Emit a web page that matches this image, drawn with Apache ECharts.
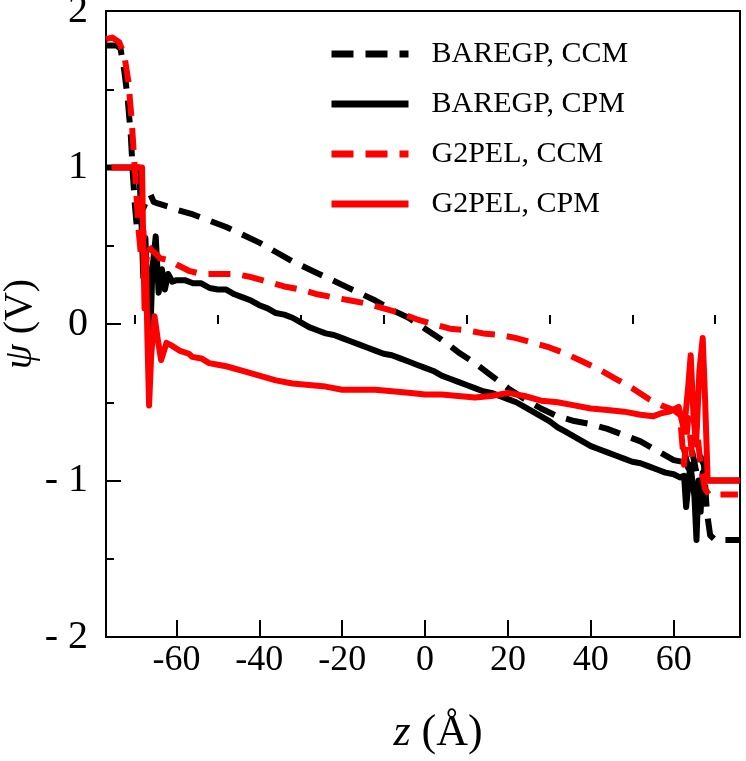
<!DOCTYPE html>
<html>
<head>
<meta charset="utf-8">
<script src="https://cdn.jsdelivr.net/npm/echarts@6/dist/echarts.min.js"></script>
<style>
  html, body { margin: 0; padding: 0; background: #fff; }
  #chart { width: 746px; height: 761px; }
</style>
</head>
<body>
<div id="chart"></div>
<script>
// potential profiles, [z (Å), psi (V)]
const baregpCcm = [
  [-77, 1.78], [-74.5, 1.78], [-73.5, 1.76], [-72.6, 1.62], [-71.8, 1.45], [-71.0, 1.2],
  [-70.5, 0.95], [-70.0, 0.75], [-69.5, 0.6], [-69.0, 0.7], [-68.0, 0.74], [-67.0, 0.8],
  [-66.3, 0.83], [-65.5, 0.78], [-64.5, 0.77], [-62, 0.75], [-60, 0.73], [-56, 0.7],
  [-52, 0.66], [-48, 0.62], [-44, 0.57], [-40, 0.52], [-36, 0.46], [-32, 0.4], [-28, 0.35],
  [-24, 0.3], [-20, 0.25], [-16, 0.2], [-12, 0.15], [-8, 0.09], [-4, 0.04], [0, -0.03],
  [4, -0.1], [8, -0.18], [12, -0.25], [16, -0.33], [20, -0.41], [24, -0.48], [28, -0.54],
  [32, -0.59], [36, -0.62], [40, -0.64], [44, -0.67], [48, -0.71], [52, -0.75], [56, -0.81],
  [60, -0.87], [62, -0.88], [62.5, -0.8], [63.5, -0.92], [64.5, -0.82], [65.5, -0.95],
  [66.5, -0.85], [67.3, -0.9], [68, -1.2], [68.8, -1.35], [70, -1.38], [76, -1.38]
]
const baregpCpm = [
  [-77, 1.0], [-69, 1.0], [-68.5, 0.7], [-68, 0.3], [-67.5, 0.55], [-67, 0.2], [-66.4, -0.15],
  [-65.8, 0.35], [-65, 0.56], [-64.3, 0.2], [-63.5, 0.35], [-62.8, 0.22], [-62, 0.32],
  [-61, 0.27], [-60, 0.28], [-58, 0.28], [-56, 0.26], [-54, 0.26], [-52, 0.23], [-50, 0.22],
  [-48, 0.22], [-46, 0.19], [-44, 0.17], [-42, 0.15], [-40, 0.12], [-38, 0.1], [-36, 0.07],
  [-34, 0.06], [-32, 0.04], [-30, 0.01], [-28, -0.02], [-26, -0.04], [-24, -0.06],
  [-22, -0.07], [-20, -0.09], [-18, -0.11], [-16, -0.13], [-14, -0.15], [-12, -0.17],
  [-10, -0.19], [-8, -0.2], [-6, -0.22], [-4, -0.24], [-2, -0.26], [0, -0.28], [2, -0.3],
  [4, -0.33], [6, -0.35], [8, -0.37], [10, -0.39], [12, -0.41], [14, -0.43], [16, -0.44],
  [18, -0.46], [20, -0.48], [22, -0.5], [24, -0.53], [26, -0.56], [28, -0.59], [30, -0.62],
  [32, -0.66], [34, -0.69], [36, -0.72], [38, -0.75], [40, -0.78], [42, -0.8], [44, -0.82],
  [46, -0.84], [48, -0.86], [50, -0.88], [52, -0.89], [54, -0.91], [56, -0.93], [58, -0.95],
  [60, -0.96], [61.5, -0.98], [62.5, -0.97], [63, -1.17], [64, -0.9], [65, -1.1],
  [65.5, -1.38], [66, -1.0], [66.5, -1.2], [67, -0.95], [67.8, -1.0], [76, -1.0]
]
const g2pelCcm = [
  [-77, 1.82], [-75.5, 1.83], [-73.8, 1.8], [-72.6, 1.72], [-71.6, 1.55], [-70.8, 1.3],
  [-70.2, 1.05], [-69.7, 0.85], [-69.2, 0.62], [-68.6, 0.45], [-68, 0.6], [-67.4, 0.38],
  [-66.8, 0.5], [-66, 0.47], [-65, 0.45], [-64, 0.42], [-62, 0.41], [-60, 0.38], [-57, 0.34],
  [-54, 0.32], [-50, 0.32], [-46, 0.32], [-42, 0.3], [-38, 0.27], [-34, 0.24], [-30, 0.22],
  [-26, 0.19], [-22, 0.17], [-18, 0.15], [-14, 0.13], [-10, 0.1], [-6, 0.07], [-2, 0.03],
  [2, 0.0], [6, -0.03], [10, -0.04], [14, -0.06], [18, -0.07], [22, -0.09], [26, -0.12],
  [30, -0.15], [34, -0.19], [38, -0.24], [42, -0.29], [46, -0.35], [50, -0.41], [54, -0.48],
  [57, -0.52], [60, -0.55], [61.5, -0.58], [62.5, -0.9], [63.5, -0.6], [64.5, -0.85],
  [65.5, -0.65], [66.5, -0.9], [67.5, -1.05], [68.5, -1.09], [75.5, -1.09]
]
const g2pelCpm = [
  [-75.7, 1.0], [-68.3, 1.0], [-68, 0.5], [-67.7, 0.1], [-67.4, 0.45], [-67.0, -0.1],
  [-66.6, -0.52], [-66.1, -0.2], [-65.3, 0.05], [-64.5, -0.1], [-63.7, -0.23], [-62.4, -0.12],
  [-61, -0.14], [-59.3, -0.17], [-57, -0.19], [-56.2, -0.21], [-54, -0.22], [-52.1, -0.25],
  [-50, -0.26], [-48, -0.27], [-44, -0.3], [-40, -0.33], [-36, -0.36], [-32, -0.38],
  [-28, -0.39], [-24, -0.4], [-20, -0.42], [-16, -0.42], [-12, -0.42], [-8, -0.43],
  [-4, -0.44], [0, -0.45], [4, -0.45], [8, -0.46], [12, -0.47], [16, -0.46], [20, -0.44],
  [24, -0.46], [28, -0.49], [32, -0.5], [36, -0.52], [40, -0.54], [44, -0.55], [48, -0.56],
  [52, -0.58], [55, -0.59], [57, -0.57], [59, -0.56], [61.2, -0.53], [62.5, -0.68],
  [63.5, -0.4], [64.1, -0.2], [64.8, -0.6], [65.4, -0.77], [66.2, -0.3], [67.0, -0.09],
  [67.6, -0.5], [68.2, -1.0], [76, -1.0]
]

const seriesNames = ['BAREGP, CCM', 'BAREGP, CPM', 'G2PEL, CCM', 'G2PEL, CPM']
const xMajorTicks = [-60, -40, -20, 0, 20, 40, 60]
const xMinorTicks = [-70, -50, -30, -10, 10, 30, 50, 70]

const font = "'Liberation Serif', 'Times New Roman', serif"
const dash = [22, 12]

const chart = echarts.init(document.getElementById('chart'))

const line = (name, data, color, dashed) => ({
  name,
  type: 'line',
  data,
  showSymbol: false,
  symbol: 'none',
  lineStyle: { color, width: 6, type: dashed ? dash : 'solid', cap: 'butt', join: 'round' },
  itemStyle: { color },
  animation: false
})

const option = {
  animation: false,
  backgroundColor: '#fff',
  grid: {
    left: 106,
    right: 6,
    top: 11,
    bottom: 124,
    outerBoundsMode: 'none',
    containLabel: false,
    show: true,
    borderColor: '#000',
    borderWidth: 2
  },
  legend: {
    left: 323,
    top: 34,
    orient: 'vertical',
    itemWidth: 77,
    itemHeight: 14,
    itemGap: 20,
    data: seriesNames,
    itemStyle: { opacity: 0 },
    lineStyle: { width: 7, cap: 'butt' },
    textStyle: {
      fontFamily: font,
      fontSize: 30,
      color: '#000',
      padding: [0, 0, 0, 18]
    }
  },
  xAxis: [
    {
      type: 'value',
      min: -77,
      max: 76,
      name: '{i|z} (Å)',
      nameLocation: 'middle',
      nameGap: 74,
      nameTextStyle: {
        fontFamily: font,
        fontSize: 44,
        color: '#000',
        padding: [0, 0, 0, 30],
        rich: { i: { fontFamily: font, fontSize: 44, fontStyle: 'italic', color: '#000' } }
      },
      splitLine: { show: false },
      axisLine: { onZero: false, lineStyle: { color: '#000', width: 2 } },
      axisTick: { inside: true, length: 17, lineStyle: { color: '#000', width: 2 }, customValues: xMajorTicks },
      axisLabel: {
        customValues: xMajorTicks,
        fontFamily: font,
        fontSize: 36,
        color: '#000',
        margin: 6
      }
    },
    {
      type: 'value',
      min: -77,
      max: 76,
      position: 'bottom',
      splitLine: { show: false },
      axisLine: { show: false },
      axisTick: { inside: true, length: 9, lineStyle: { color: '#000', width: 2 }, customValues: xMinorTicks },
      axisLabel: { show: false }
    }
  ],
  yAxis: {
    type: 'value',
    min: -2,
    max: 2,
    interval: 1,
    name: '{i|ψ} (V)',
    nameLocation: 'middle',
    nameGap: 66,
    nameMoveOverlap: false,
    nameTextStyle: {
      fontFamily: font,
      fontSize: 40,
      color: '#000',
      rich: { i: { fontFamily: font, fontSize: 40, fontStyle: 'italic', color: '#000' } }
    },
    splitLine: { show: false },
    axisLine: { onZero: false, lineStyle: { color: '#000', width: 2 } },
    axisTick: { inside: true, length: 15, lineStyle: { color: '#000', width: 2 } },
    minorTick: { show: true, splitNumber: 2, length: 8, lineStyle: { color: '#000', width: 2 } },
    axisLabel: {
      fontFamily: font,
      fontSize: 40,
      color: '#000',
      margin: 18,
      formatter: (v) => (v < 0 ? '- ' + Math.abs(v) : String(v))
    }
  },
  series: [
    line(seriesNames[0], baregpCcm, '#000', true),
    line(seriesNames[1], baregpCpm, '#000', false),
    line(seriesNames[2], g2pelCcm, '#ff0000', true),
    line(seriesNames[3], g2pelCpm, '#ff0000', false)
  ]
}

chart.setOption(option)
</script>
</body>
</html>
